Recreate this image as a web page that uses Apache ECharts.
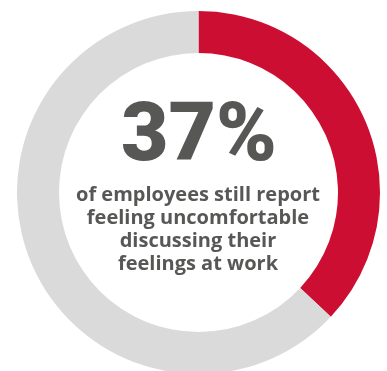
<!DOCTYPE html>
<html>
<head>
<meta charset="utf-8">
<script src="https://cdn.jsdelivr.net/npm/echarts@6/dist/echarts.min.js"></script>
<style>
  html, body { margin: 0; padding: 0; background: #fff; }
  #chart { width: 387px; height: 371px; }
</style>
</head>
<body>
<div id="chart"></div>
<script>
// share of employees
const categories = ['Uncomfortable', 'Other'];
const values = [37, 63];
const headline = '37%';
const caption = ['of employees still report', 'feeling uncomfortable', 'discussing their', 'feelings at work'];

let myChart = echarts.init(document.getElementById('chart'));

let option = {
  animation: false,
  graphic: [
    {
      type: 'text',
      x: 199,
      y: 98,
      style: {
        text: headline,
        font: '900 82px Roboto',
        fill: '#575756',
        align: 'center',
        verticalAlign: 'top'
      }
    },
    {
      type: 'text',
      x: 198,
      y: 184,
      style: {
        text: caption.join('\n'),
        font: 'bold 20px "Open Sans"',
        lineHeight: 23,
        fill: '#575756',
        align: 'center',
        verticalAlign: 'top'
      }
    }
  ],
  series: [{
    type: 'pie',
    center: [198.5, 192.5],
    radius: [139.5, 181.5],
    startAngle: 90,
    clockwise: true,
    silent: true,
    label: { show: false },
    labelLine: { show: false },
    data: categories.map((c, i) => ({
      name: c,
      value: values[i],
      itemStyle: { color: i === 0 ? '#CC0E32' : '#DADADA' }
    }))
  }]
};

myChart.setOption(option, true);
</script>
</body>
</html>
